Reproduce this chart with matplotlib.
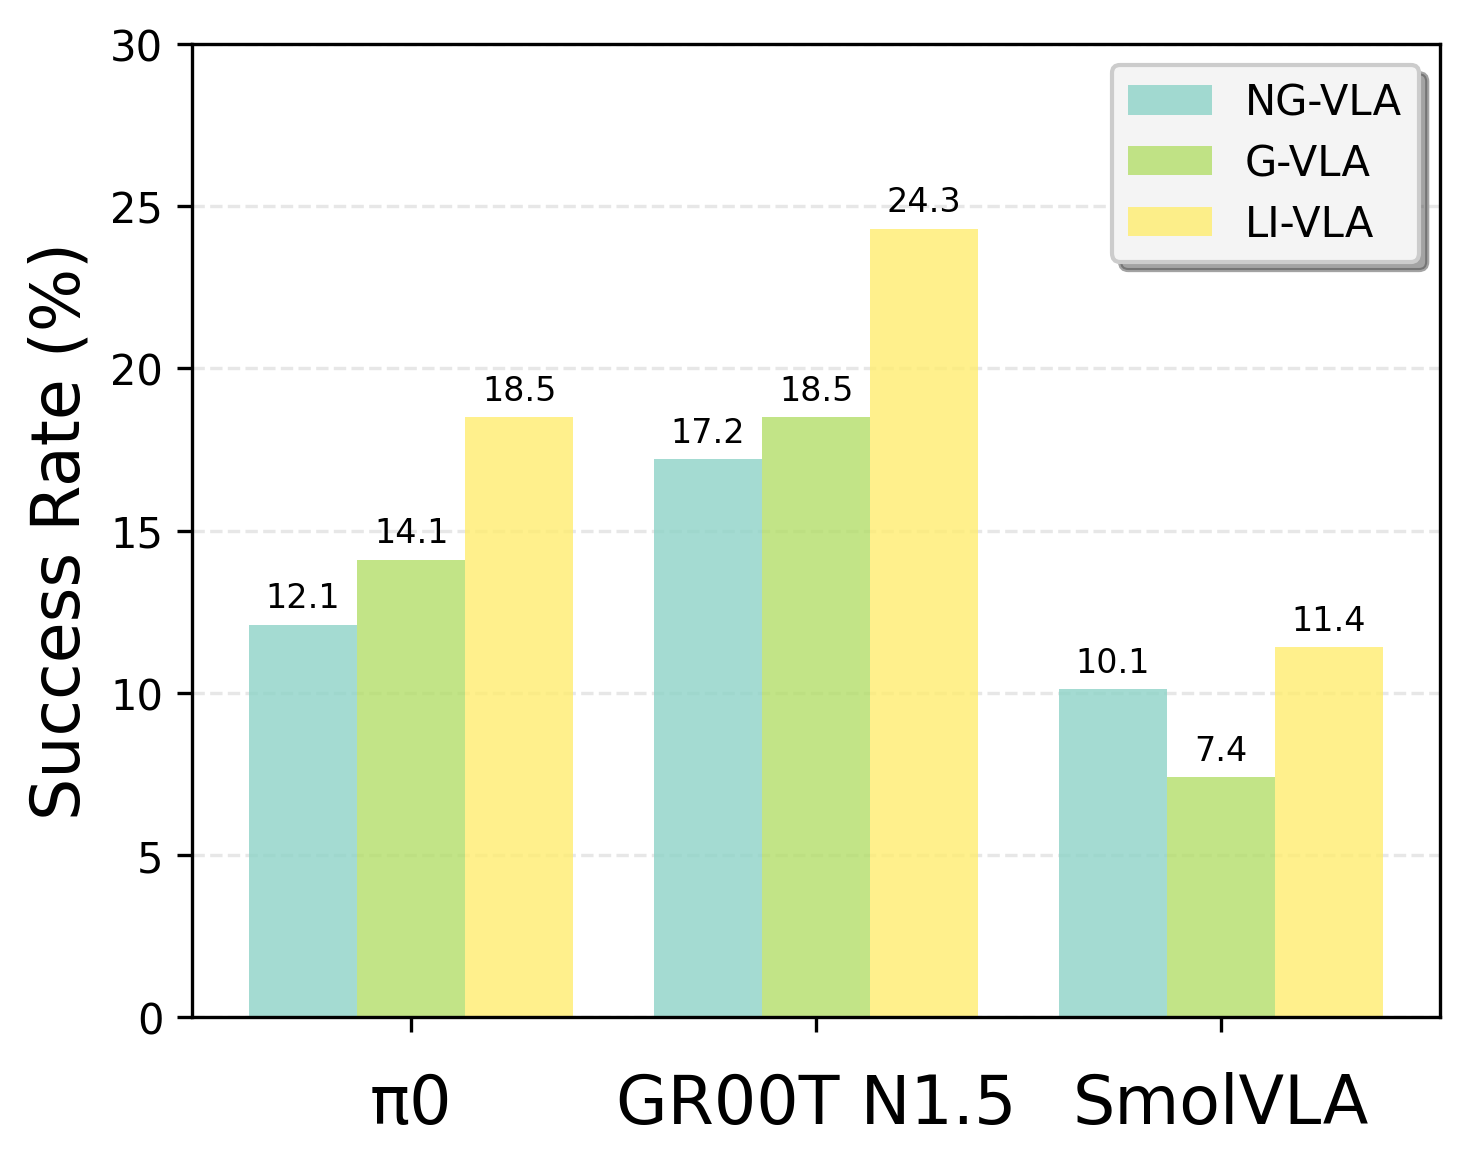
import matplotlib
matplotlib.use('Agg')
import matplotlib.pyplot as plt
import numpy as np

models = ['π0', 'GR00T N1.5', 'SmolVLA']
series_names = ['NG-VLA', 'G-VLA', 'LI-VLA']
ng_vla = [12.1, 17.2, 10.1]
g_vla = [14.1, 18.5, 7.4]
li_vla = [18.5, 24.3, 11.4]
colors = ['#8dd3c7', '#b3de69', '#ffed6f']

fig, ax = plt.subplots(figsize=(4.897, 3.893), dpi=300)
fig.subplots_adjust(left=0.131, right=0.980, top=0.9615, bottom=0.1284)

x = np.arange(len(models))
width = 0.8 / 3
for i, (name, vals) in enumerate(zip(series_names, [ng_vla, g_vla, li_vla])):
    bars = ax.bar(x + (i - 1) * width, vals, width, label=name,
                  color=colors[i], alpha=0.8)
    for b, v in zip(bars, vals):
        ax.annotate(f'{v:.1f}', xy=(b.get_x() + b.get_width() / 2, v),
                    xytext=(0, 2.5), textcoords='offset points',
                    ha='center', va='bottom', fontsize=8)

ax.set_ylim(0, 30)
ax.set_ylabel('Success Rate (%)', fontsize=16)
ax.set_xticks(x)
ax.set_xticklabels(models, fontsize=16)
ax.tick_params(axis='x', pad=9.5)
ax.tick_params(axis='y', labelsize=10)
ax.yaxis.grid(True, linestyle='--', alpha=0.3)
ax.set_axisbelow(True)
ax.legend(loc='upper right', fontsize=10, shadow=True, fancybox=True,
          labelspacing=0.45, facecolor='#f4f4f4', framealpha=1)

fig.savefig('out.png', dpi=300)
